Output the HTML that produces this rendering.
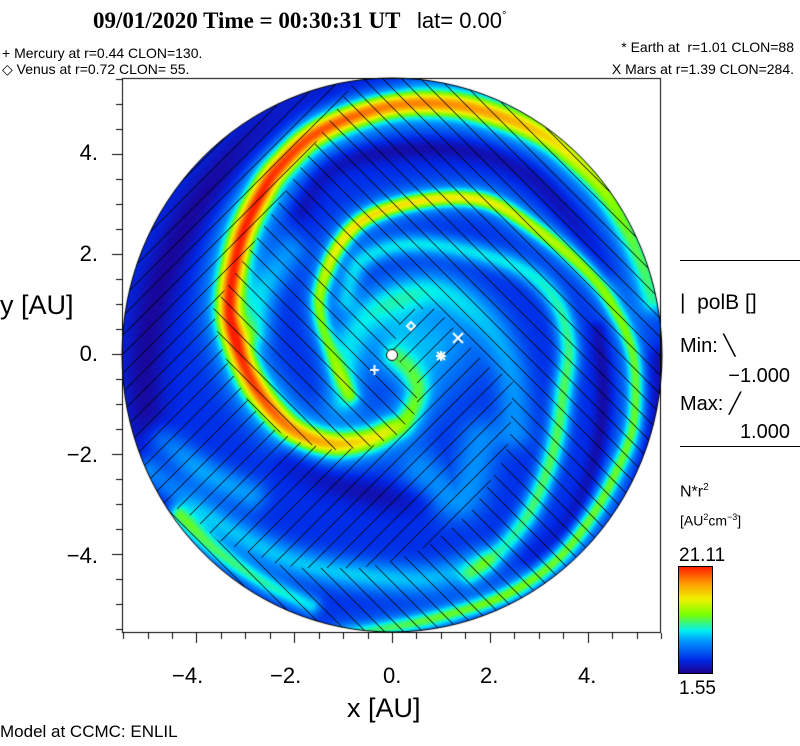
<!DOCTYPE html>
<html><head><meta charset="utf-8"><style>
html,body{margin:0;padding:0;background:#fff;}
body{width:800px;height:746px;position:relative;overflow:hidden;font-family:"Liberation Sans",sans-serif;color:#000;}
.t{position:absolute;white-space:nowrap;line-height:1;}
.s{font-size:14px;}
.tick{font-size:22px;}
</style></head><body>
<canvas id="c" width="800" height="746" style="position:absolute;left:0;top:0"></canvas>

<div class="t" style="left:93px;top:9px;font-family:'Liberation Serif',serif;font-weight:bold;font-size:23px;">09/01/2020 Time = 00:30:31 UT</div>
<div class="t" style="left:417px;top:10px;font-size:22px;">lat= 0.00<sup style="font-size:11px;vertical-align:9px">°</sup></div>

<div class="t s" style="left:2px;top:46px;">+ Mercury at r=0.44 CLON=130.</div>
<div class="t s" style="left:2px;top:62px;">◇ Venus at r=0.72 CLON= 55.</div>
<div class="t s" style="right:6px;top:40px;">* Earth at&nbsp; r=1.01 CLON=88</div>
<div class="t s" style="right:6px;top:62px;">X Mars at r=1.39 CLON=284.</div>

<div class="t" style="left:0px;top:292px;font-size:27px;">y [AU]</div>
<div class="t" style="left:347px;top:695px;font-size:27px;">x [AU]</div>

<div class="t tick" style="right:702px;top:142px;">4.</div>
<div class="t tick" style="right:702px;top:243px;">2.</div>
<div class="t tick" style="right:702px;top:343px;">0.</div>
<div class="t tick" style="right:702px;top:444px;">−2.</div>
<div class="t tick" style="right:702px;top:545px;">−4.</div>

<div class="t tick" style="left:172px;top:665px;">−4.</div>
<div class="t tick" style="left:270px;top:665px;">−2.</div>
<div class="t tick" style="left:383px;top:665px;">0.</div>
<div class="t tick" style="left:480px;top:665px;">2.</div>
<div class="t tick" style="left:578px;top:665px;">4.</div>

<div style="position:absolute;left:680px;top:260px;width:120px;height:1px;background:#000"></div>
<div class="t" style="left:680px;top:292px;font-size:21px;">|&nbsp; polB []</div>
<div class="t" style="left:680px;top:336px;font-size:20px;">Min: ╲</div>
<div class="t" style="right:10px;top:366px;font-size:20px;">−1.000</div>
<div class="t" style="left:680px;top:394px;font-size:20px;">Max: ╱</div>
<div class="t" style="right:10px;top:422px;font-size:20px;">1.000</div>
<div style="position:absolute;left:680px;top:446px;width:120px;height:1px;background:#000"></div>
<div class="t" style="left:680px;top:483px;font-size:16px;">N*r<sup style="font-size:10px">2</sup></div>
<div class="t" style="left:680px;top:513px;font-size:14px;">[AU<sup style="font-size:9px">2</sup>cm<sup style="font-size:9px">−3</sup>]</div>
<div class="t" style="left:679px;top:546px;font-size:19px;">21.11</div>
<div style="position:absolute;left:678px;top:566px;width:33px;height:106px;border:1px solid #000;background:linear-gradient(to bottom,#ff1e00 0%,#ff9600 15%,#f0f000 30%,#78ff00 45%,#00f0f0 60%,#0096ff 70%,#0028e6 88%,#1e008c 100%);"></div>
<div class="t" style="left:679px;top:679px;font-size:19px;">1.55</div>

<div class="t" style="left:0px;top:723px;font-size:17px;">Model at CCMC: ENLIL</div>

<script>
(function(){
const W=800,H=746,CX=392,CY=355,RX=270,RY=277,BASE=0.13;
const pos=new Float32Array(W*H),negf=new Float32Array(W*H);
function cr(a,b,c,d,t){const t2=t*t,t3=t2*t;return 0.5*((2*b)+(-a+c)*t+(2*a-5*b+4*c-d)*t2+(-a+3*b-3*c+d)*t3);}
function smooth(p,n){const o=[];const L=p.length;if(L<2)return p;for(let i=0;i<L-1;i++){const p0=p[Math.max(i-1,0)],p1=p[i],p2=p[i+1],p3=p[Math.min(i+2,L-1)];for(let k=0;k<n;k++){const t=k/n;o.push([cr(p0[0],p1[0],p2[0],p3[0],t),cr(p0[1],p1[1],p2[1],p3[1],t),p1[2]+(p2[2]-p1[2])*t]);}}o.push(p[L-1]);return o;}
function arm(pts,sig,isNeg){
 const s=smooth(pts,6);const buf=new Float32Array(W*H);const R=Math.ceil(sig*2.6);
 for(let i=0;i<s.length-1;i++){
  const x1=s[i][0],y1=s[i][1],x2=s[i+1][0],y2=s[i+1][1];
  let a1=s[i][2],a2=s[i+1][2];if(!isNeg){a1-=BASE;a2-=BASE;}
  const ex=x2-x1,ey=y2-y1,L2=ex*ex+ey*ey||1e-6;
  const xa=Math.max(0,Math.floor(Math.min(x1,x2)-R)),xb=Math.min(W-1,Math.ceil(Math.max(x1,x2)+R));
  const ya=Math.max(0,Math.floor(Math.min(y1,y2)-R)),yb=Math.min(H-1,Math.ceil(Math.max(y1,y2)+R));
  for(let y=ya;y<=yb;y++)for(let x=xa;x<=xb;x++){
   let t=((x-x1)*ex+(y-y1)*ey)/L2;t=t<0?0:t>1?1:t;
   const dx=x-(x1+ex*t),dy=y-(y1+ey*t);const d2=dx*dx+dy*dy;
   const v=(a1+(a2-a1)*t)*Math.exp(-d2/(sig*sig));const k=y*W+x;if(v>buf[k])buf[k]=v;}
 }
 const tgt=isNeg?negf:pos;for(let k=0;k<W*H;k++)tgt[k]+=buf[k];
}
function scaled(pts,f){return pts.map(p=>[p[0],p[1],BASE+(p[2]-BASE)*f]);}
// broad lighter regions
arm([[410,330,0.32],[430,340,0.32]],50,false);
arm([[345,300,0.3],[360,262,0.36],[400,245,0.38],[455,248,0.38],[520,268,0.4],[555,300,0.44],[568,345,0.47],[563,390,0.5],[553,450,0.5],[530,510,0.48],[500,550,0.42],[470,575,0.34]],11,false);
arm([[340,400,0.3],[355,330,0.32],[390,300,0.32],[440,290,0.32],[485,320,0.3],[510,370,0.3],[515,430,0.28]],18,false);
arm([[150,470,0.34],[185,500,0.36],[230,530,0.35],[290,560,0.35],[360,575,0.36],[430,578,0.34],[480,560,0.3]],16,false);
arm([[178,515,0.47],[215,550,0.47],[263,582,0.44],[310,605,0.38]],10,false);
arm([[255,330,0.32],[265,290,0.32],[290,250,0.28]],16,false);
arm([[160,440,0.3],[200,470,0.32],[250,495,0.3]],16,false);
arm([[420,470,0.28],[460,500,0.3],[480,440,0.28]],22,false);
const red=[[395,357,0.36],[410,372,0.4],[417,393,0.46],[405,420,0.56],[389,430,0.66],[365,440,0.72],[329,443,0.8],[289,427,0.88],[255,387,0.96],[235,340,1.0],[229,300,1.0],[240,240,1.0],[260,195,1.0],[280,165,0.98],[320,130,0.96],[387,106,0.9],[450,104,0.86],[500,116,0.82],[540,133,0.76],[567,152,0.7],[600,185,0.62],[625,225,0.56],[642,265,0.5],[652,300,0.45]];
const inner=[[350,395,0.42],[337,370,0.45],[327,343,0.5],[320,317,0.55],[320,290,0.6],[337,247,0.7],[367,217,0.74],[423,200,0.72],[483,200,0.7],[533,227,0.65],[583,267,0.6],[612,305,0.56],[633,357,0.53],[633,423,0.53],[613,477,0.53],[585,525,0.53],[550,565,0.53],[500,597,0.55],[433,618,0.52],[383,628,0.48],[340,634,0.4]];
arm(scaled(red,0.3),26,false);
arm(scaled(inner,0.28),18,false);
arm(scaled(red,0.7),12,false);
arm(scaled(inner,0.72),8,false);
// dark regions
arm([[170,495,0.1],[145,410,0.1],[150,320,0.11],[178,240,0.11],[220,175,0.11],[270,130,0.1],[330,96,0.09],[390,82,0.07]],22,true);
arm([[300,210,0.08],[330,168,0.09],[390,150,0.1],[470,150,0.1],[530,175,0.09],[575,225,0.08],[605,270,0.06]],12,true);
arm([[658,360,0.1],[655,430,0.1],[640,500,0.1],[605,560,0.1],[545,605,0.1],[470,630,0.06]],13,true);
arm([[598,330,0.09],[603,400,0.1],[592,470,0.1],[565,525,0.09],[530,560,0.06]],9,true);
arm([[625,190,0.08],[650,240,0.08]],14,true);
arm([[290,460,0.08],[330,480,0.09],[380,495,0.08],[420,500,0.06]],16,true);

const stops=[[0,30,0,140],[0.12,0,40,230],[0.3,0,150,255],[0.4,0,240,240],[0.55,120,255,0],[0.7,240,240,0],[0.85,255,150,0],[1,255,30,0]];
function cmap(v){if(v<=0)return stops[0].slice(1);if(v>=1)return stops[stops.length-1].slice(1);for(let i=0;i<stops.length-1;i++){const a=stops[i],b=stops[i+1];if(v<=b[0]){const t=(v-a[0])/(b[0]-a[0]);return [a[1]+(b[1]-a[1])*t,a[2]+(b[2]-a[2])*t,a[3]+(b[3]-a[3])*t];}}}
const c=document.getElementById('c'),ctx=c.getContext('2d');
const img=ctx.createImageData(W,H),D=img.data;
for(let y=0;y<H;y++)for(let x=0;x<W;x++){const k=y*W+x,i=k*4;const dx=(x+0.5-CX)/RX,dy=(y+0.5-CY)/RY;D[i+3]=255;
 if(dx*dx+dy*dy>1){D[i]=D[i+1]=D[i+2]=255;continue;}
 const v=BASE+pos[k]-negf[k];const col=cmap(v);D[i]=col[0];D[i+1]=col[1];D[i+2]=col[2];}
ctx.putImageData(img,0,0);

function ell(){ctx.beginPath();ctx.ellipse(CX,CY,RX,RY,0,0,Math.PI*2);}
const P=[[367,60],[213,309],[219,340],[229,367],[249,403],[269,427],[302,443],[335,450],[369,447],[395,437],[417,410],[417,380],[392,354],[403,309],[437,309],[487,366],[513,380],[510,437],[503,460],[483,493],[470,513],[453,527],[433,543],[413,553],[387,563],[360,568],[303,568],[280,565],[250,553],[217,540],[193,517],[100,470],[100,60]];
function polyP(){ctx.moveTo(P[0][0],P[0][1]);for(let i=1;i<P.length;i++)ctx.lineTo(P[i][0],P[i][1]);ctx.closePath();}
ctx.strokeStyle='#000';ctx.lineWidth=1;
const SP=19;
ctx.save();ell();ctx.clip();ctx.beginPath();ctx.rect(0,0,W,H);polyP();ctx.clip('evenodd');
ctx.beginPath();for(let k=-817;k<820;k+=SP){ctx.moveTo(0,k);ctx.lineTo(800,800+k);}ctx.stroke();ctx.restore();
ctx.save();ell();ctx.clip();ctx.beginPath();polyP();ctx.clip();
ctx.beginPath();for(let k=2;k<1700;k+=SP){ctx.moveTo(0,k);ctx.lineTo(800,k-800);}ctx.stroke();ctx.restore();
ell();ctx.stroke();
ctx.strokeRect(122.5,78.5,538,554);
ctx.beginPath();
for(let v=-5.5;v<=5.51;v+=0.5){const maj=Math.abs(v-Math.round(v))<0.01&&Math.round(v)%2===0;const L=maj?10:6;
 const y=Math.round(354-v*50)+0.5;ctx.moveTo(122,y);ctx.lineTo(122-L,y);
 const x=Math.round(392+v*48.9)+0.5;ctx.moveTo(x,633);ctx.lineTo(x,633+L);}
ctx.stroke();
ctx.fillStyle='#fff';ctx.beginPath();ctx.arc(392,355,5.5,0,7);ctx.fill();ctx.stroke();
ctx.strokeStyle='#fff';ctx.lineWidth=2;ctx.beginPath();
ctx.moveTo(370,370);ctx.lineTo(379,370);ctx.moveTo(374.5,365);ctx.lineTo(374.5,375);
ctx.moveTo(411,322);ctx.lineTo(415,326);ctx.lineTo(411,330);ctx.lineTo(407,326);ctx.closePath();
ctx.moveTo(453,333);ctx.lineTo(463,343);ctx.moveTo(463,333);ctx.lineTo(453,343);
ctx.moveTo(437,352);ctx.lineTo(445,360);ctx.moveTo(445,352);ctx.lineTo(437,360);ctx.moveTo(436,356);ctx.lineTo(446,356);ctx.moveTo(441,351);ctx.lineTo(441,361);
ctx.stroke();
})();
</script>
</body></html>
